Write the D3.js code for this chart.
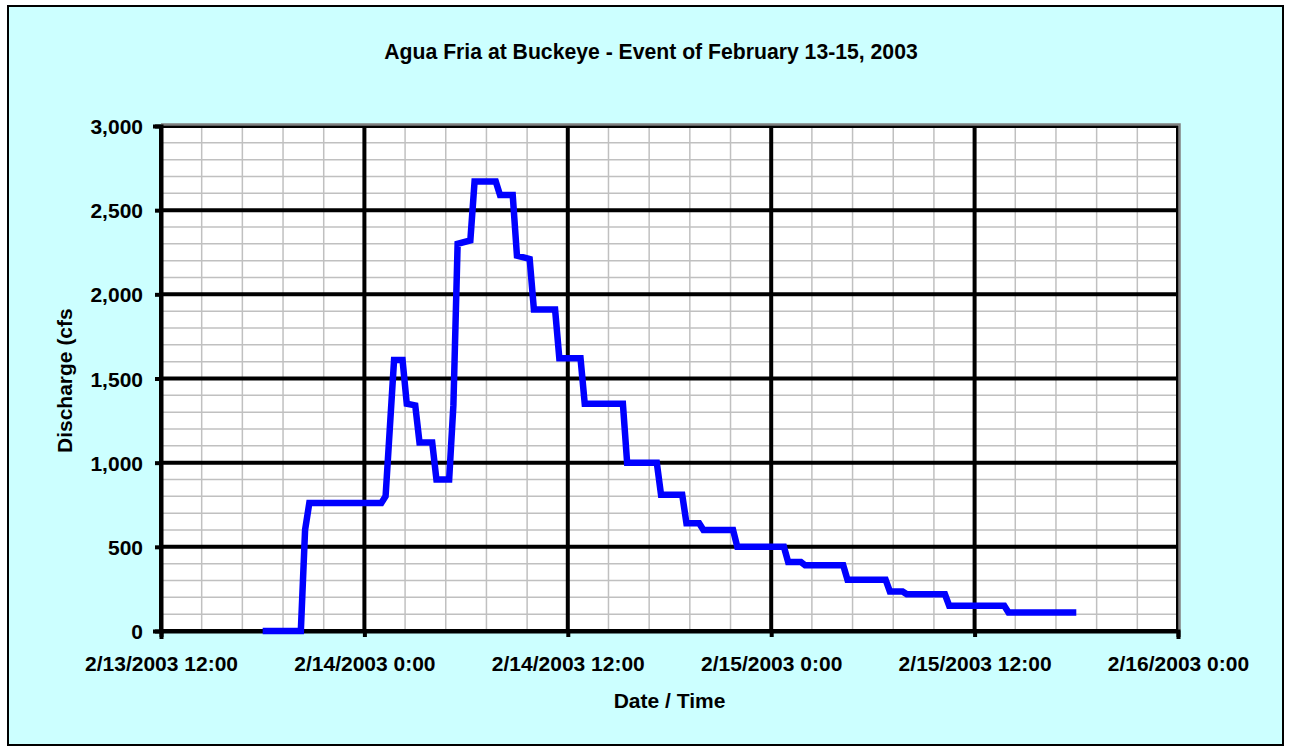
<!DOCTYPE html>
<html>
<head>
<meta charset="utf-8">
<script src="https://cdn.jsdelivr.net/npm/d3@7"></script>
<style>
  html, body { margin: 0; padding: 0; background: #ffffff; }
  svg { display: block; }
  text { font-family: "Liberation Sans", Arial, sans-serif; font-weight: bold; fill: #000; }
</style>
</head>
<body>
<svg id="chart" width="1289" height="751"></svg>
<script>
// ---- Data ----
const title = "Agua Fria at Buckeye - Event of February 13-15, 2003";
const xAxisTitle = "Date / Time";
const yAxisTitle = "Discharge (cfs";

const times = [
  "2/13/2003 18:00", "2/13/2003 20:15", "2/13/2003 20:30", "2/13/2003 20:45",
  "2/14/2003 1:00", "2/14/2003 1:15", "2/14/2003 1:45", "2/14/2003 2:15",
  "2/14/2003 2:30", "2/14/2003 3:00", "2/14/2003 3:15", "2/14/2003 4:00",
  "2/14/2003 4:15", "2/14/2003 5:00", "2/14/2003 5:15", "2/14/2003 5:30",
  "2/14/2003 6:15", "2/14/2003 6:30", "2/14/2003 7:45", "2/14/2003 8:00",
  "2/14/2003 8:45", "2/14/2003 9:00", "2/14/2003 9:45", "2/14/2003 10:00",
  "2/14/2003 11:15", "2/14/2003 11:30", "2/14/2003 12:45", "2/14/2003 13:00",
  "2/14/2003 15:15", "2/14/2003 15:30", "2/14/2003 17:15", "2/14/2003 17:30",
  "2/14/2003 18:45", "2/14/2003 19:00", "2/14/2003 19:45", "2/14/2003 20:00",
  "2/14/2003 21:45", "2/14/2003 22:00", "2/15/2003 0:45", "2/15/2003 1:00",
  "2/15/2003 1:45", "2/15/2003 2:00", "2/15/2003 4:15", "2/15/2003 4:30",
  "2/15/2003 6:45", "2/15/2003 7:00", "2/15/2003 7:45", "2/15/2003 8:00",
  "2/15/2003 10:15", "2/15/2003 10:30", "2/15/2003 13:45", "2/15/2003 14:00",
  "2/15/2003 18:00"
];
const discharge = [
  0, 0, 600, 760,
  760, 800, 1610, 1610,
  1350, 1340, 1120, 1120,
  900, 900, 1340, 2300,
  2320, 2670, 2670, 2590,
  2590, 2230, 2210, 1910,
  1910, 1620, 1620, 1350,
  1350, 1000, 1000, 810,
  810, 640, 640, 600,
  600, 500, 500, 410,
  410, 390, 390, 305,
  305, 235, 235, 218,
  218, 150, 150, 110,
  110
];

const xTickLabels = ["2/13/2003 12:00", "2/14/2003 0:00", "2/14/2003 12:00",
                     "2/15/2003 0:00", "2/15/2003 12:00", "2/16/2003 0:00"];
const yTickValues = [0, 500, 1000, 1500, 2000, 2500, 3000];
const yMinorStep = 100;
const xMinorStepHours = 2.4;

// ---- Setup ----
const parse = d3.utcParse("%m/%d/%Y %H:%M");
const data = times.map((t, i) => ({ t: parse(t), v: discharge[i] }));
const xTicks = xTickLabels.map(parse);

const svg = d3.select("#chart");
const W = 1289, H = 751;
const plot = { left: 161, top: 126, right: 1178, bottom: 631 };

const x = d3.scaleUtc().domain([xTicks[0], xTicks[xTicks.length - 1]]).range([plot.left, plot.right]);
const y = d3.scaleLinear().domain([0, 3000]).range([plot.bottom, plot.top]);

// chart background + border
svg.append("rect").attr("x", 0).attr("y", 0).attr("width", W).attr("height", H).attr("fill", "#ffffff");
svg.append("rect").attr("x", 8).attr("y", 6).attr("width", 1275).attr("height", 739)
  .attr("fill", "#ccffff").attr("stroke", "#000").attr("stroke-width", 2);

// plot area
svg.append("rect").attr("x", plot.left).attr("y", plot.top)
  .attr("width", plot.right - plot.left).attr("height", plot.bottom - plot.top)
  .attr("fill", "#ffffff");

// minor gridlines
const t0 = xTicks[0].getTime(), t1 = xTicks[xTicks.length - 1].getTime();
const minorX = d3.range(t0, t1 + 1, xMinorStepHours * 3600e3).map(ms => new Date(ms));
const minorY = d3.range(0, 3001, yMinorStep);
const g = svg.append("g");
g.selectAll("line.mx").data(minorX).join("line")
  .attr("x1", d => x(d)).attr("x2", d => x(d)).attr("y1", plot.top).attr("y2", plot.bottom)
  .attr("stroke", "#c0c0c0").attr("stroke-width", 1.5);
g.selectAll("line.my").data(minorY).join("line")
  .attr("x1", plot.left).attr("x2", plot.right).attr("y1", d => y(d)).attr("y2", d => y(d))
  .attr("stroke", "#c0c0c0").attr("stroke-width", 1.5);

// major gridlines
g.selectAll("line.Mx").data(xTicks).join("line")
  .attr("x1", d => x(d)).attr("x2", d => x(d)).attr("y1", plot.top).attr("y2", plot.bottom)
  .attr("stroke", "#000").attr("stroke-width", 4);
g.selectAll("line.My").data(yTickValues).join("line")
  .attr("x1", plot.left).attr("x2", plot.right).attr("y1", d => y(d)).attr("y2", d => y(d))
  .attr("stroke", "#000").attr("stroke-width", 4);

// plot border (gray, top/right)
svg.append("path")
  .attr("d", `M${plot.left},${plot.top - 1.5}H${plot.right + 1.5}V${plot.bottom}`)
  .attr("fill", "none").attr("stroke", "#808080").attr("stroke-width", 2.5);

// axes
const xAxis = d3.axisBottom(x).tickValues(xTicks).tickSize(6).tickFormat((d, i) => xTickLabels[i]);
const yAxis = d3.axisLeft(y).tickValues(yTickValues).tickSize(6).tickFormat(d3.format(","));

const gx = svg.append("g").attr("transform", `translate(0,${plot.bottom})`).call(xAxis);
gx.select(".domain").attr("stroke", "#000").attr("stroke-width", 4);
gx.selectAll(".tick line").attr("stroke", "#000").attr("stroke-width", 4);
gx.selectAll(".tick text").attr("font-size", 21).attr("dy", null).attr("y", 40)
  .style("font-family", '"Liberation Sans", Arial, sans-serif').style("font-weight", "bold");

const gy = svg.append("g").attr("transform", `translate(${plot.left},0)`).call(yAxis);
gy.select(".domain").attr("stroke", "#000").attr("stroke-width", 4);
gy.selectAll(".tick line").attr("stroke", "#000").attr("stroke-width", 4);
gy.selectAll(".tick text").attr("font-size", 21).attr("x", -18).attr("dy", "0.36em")
  .style("font-family", '"Liberation Sans", Arial, sans-serif').style("font-weight", "bold");
svg.selectAll(".domain").attr("stroke-linecap", "square");

// line
const line = d3.line().x(d => x(d.t)).y(d => y(d.v));
svg.append("path").datum(data)
  .attr("d", line)
  .attr("fill", "none").attr("stroke", "#0000ff").attr("stroke-width", 6.5)
  .attr("stroke-linejoin", "miter").attr("stroke-miterlimit", 2).attr("stroke-linecap", "butt");

// titles
svg.append("text").attr("x", 651).attr("y", 59).attr("text-anchor", "middle")
  .attr("font-size", 21.2).text(title);
svg.append("text").attr("x", (plot.left + plot.right) / 2).attr("y", 708).attr("text-anchor", "middle")
  .attr("font-size", 21).text(xAxisTitle);
svg.append("text").attr("transform", "translate(71.5,453) rotate(-90)").attr("text-anchor", "start")
  .attr("font-size", 21).text(yAxisTitle);
</script>
</body>
</html>
